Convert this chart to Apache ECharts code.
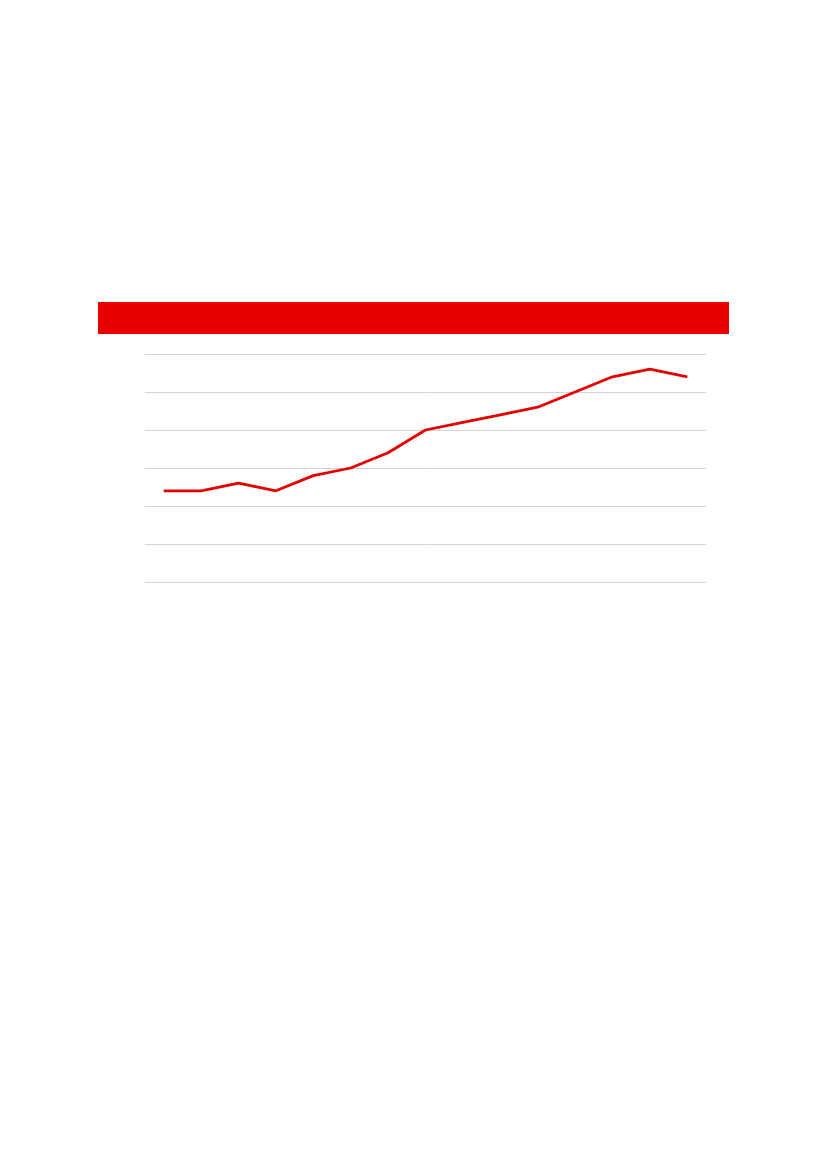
<!DOCTYPE html>
<html>
<head>
<meta charset="utf-8">
<script src="https://cdn.jsdelivr.net/npm/echarts@6/dist/echarts.min.js"></script>
<style>
  html, body { margin: 0; padding: 0; background: #fff; }
  #chart { width: 826px; height: 1169px; }
</style>
</head>
<body>
<div id="chart"></div>
<script>
// values (no labels are printed in the reference)
var categories = ["1", "2", "3", "4", "5", "6", "7", "8", "9", "10", "11", "12", "13", "14", "15"];
var values = [2.4, 2.4, 2.6, 2.4, 2.8, 3.0, 3.4, 4.0, 4.2, 4.4, 4.6, 5.0, 5.4, 5.6, 5.4];
var yMin = 0;
var yMax = 6;
var yStep = 1;

var myChart = echarts.init(document.getElementById("chart"), null, { renderer: "canvas" });

var option = {
  animation: false,
  backgroundColor: "#ffffff",
  graphic: [
    {
      type: "rect",
      left: 98,
      top: 302,
      shape: { width: 631, height: 32 },
      style: { fill: "#e60000" },
    },
  ],
  grid: {
    left: 145,
    right: 120,
    top: 354,
    bottom: 587,
  },
  xAxis: {
    type: "category",
    data: categories,
    boundaryGap: true,
    axisLine: { show: false },
    axisTick: { show: false },
    axisLabel: { show: false },
  },
  yAxis: {
    type: "value",
    min: yMin,
    max: yMax,
    interval: yStep,
    axisLine: { show: false },
    axisTick: { show: false },
    axisLabel: { show: false },
    splitLine: { lineStyle: { color: "#d4d4d4", width: 1 } },
  },
  series: [
    {
      type: "line",
      data: values,
      symbol: "none",
      lineStyle: { color: "#e60000", width: 2.8 },
    },
  ],
};

myChart.setOption(option);
</script>
</body>
</html>
